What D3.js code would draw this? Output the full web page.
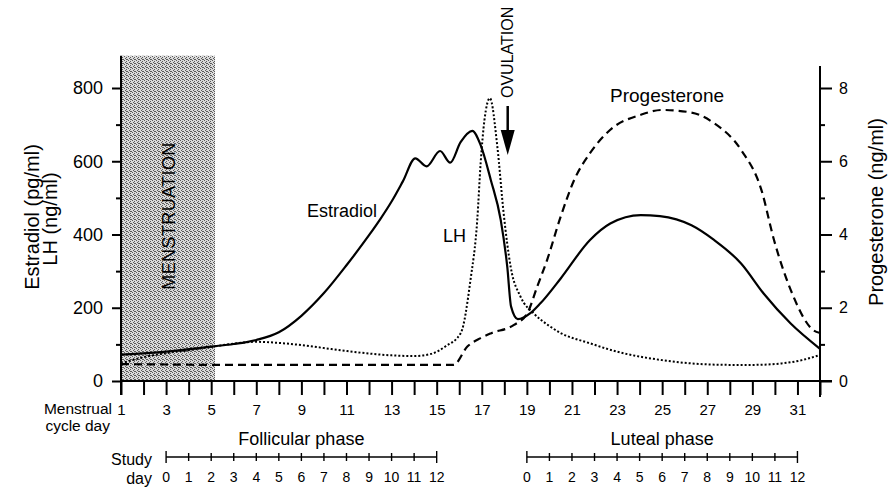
<!DOCTYPE html>
<html>
<head>
<meta charset="utf-8">
<script src="https://d3js.org/d3.v7.min.js"></script>
<style>
  body { margin: 0; background: #fff; }
  svg { display: block; font-family: "Liberation Sans", Arial, Helvetica, sans-serif; }
</style>
</head>
<body>
<div id="chart"></div>
<script>
// hormone levels: [menstrual cycle day, value]
var estradiol = [[1,72],[3,80],[5,94],[6,101],[7,112],[8,133],[9,178],[10,240],[11,316],[12,398],[12.5,442],
  [13,490],[13.5,545],[14.05,608],[14.55,586],[15.15,628],[15.6,596],[16.06,652],[16.58,683],[16.95,644],
  [17.4,549],[17.84,440],[18.13,312],[18.3,203],[18.6,169],[19.17,186],[19.6,212],[20.5,280],[21.8,385],
  [22.7,430],[24.05,453],[24.9,450],[26.3,425],[27.3,385],[28.5,321],[29.5,239],[30.7,157],[32,88]];
var lh = [[1,48],[2,65],[3,76],[4,84],[5,93],[6,102],[7,107],[8,104],[9,98],[10,90],[11,82],[12,75],[13,70],
  [14,68],[14.75,74],[15.4,95],[16.07,131],[16.5,276],[16.8,440],[16.95,595],[17.12,713],[17.36,772],[17.69,640],
  [17.97,458],[18.28,312],[18.72,230],[19.3,185],[20,150],[20.5,131],[21.8,103],[23,80],[24.06,66],[25,57],
  [26.3,48],[28,44],[29,44],[30.3,48],[31.2,57],[32,71]];
var progesterone = [[1,0.46],[3,0.45],[5,0.44],[10,0.44],[15.75,0.44],[16.36,0.94],[16.95,1.17],[17.4,1.3],
  [18.43,1.53],[19.02,1.85],[19.46,2.58],[19.9,3.31],[20.5,4.49],[21.1,5.49],[21.8,6.22],[22.7,6.86],[24.06,7.27],
  [25,7.4],[26.3,7.33],[27.3,7.04],[28.5,6.31],[29.4,5.22],[29.96,3.85],[30.7,2.49],[31.7,1.39],[32,1.31]];

var cycleDays = d3.range(1, 33);
var leftTicks = [0, 200, 400, 600, 800];
var leftMinor = [100, 300, 500, 700];
var rightTicks = [0, 2, 4, 6, 8];
var rightMinor = [1, 3, 5, 7];
var studyDays = d3.range(0, 13);
var follicular = [3, 15];
var luteal = [19, 31];
var menstruation = [1, 5.17];
var ovulationDay = 18.15;

var width = 892, height = 488;

var svg = d3.select("#chart")
  .append("svg")
    .attr("width", width)
    .attr("height", height);

// scales
var x = d3.scaleLinear().domain([1, 32]).range([121, 820]);
var y = d3.scaleLinear().domain([0, 800]).range([381, 88]);
var yP = d3.scaleLinear().domain([0, 8]).range([381, 88]);

// halftone stipple for the menstruation block
var pat = svg.append("defs").append("pattern")
  .attr("id", "stipple")
  .attr("width", 4).attr("height", 4)
  .attr("patternUnits", "userSpaceOnUse");
pat.append("rect").attr("width", 4).attr("height", 4).attr("fill", "#dadada");
[[0,0],[2,1],[1,2],[3,3],[2,3]].forEach(function(p) {
  pat.append("rect").attr("x", p[0]).attr("y", p[1]).attr("width", 1).attr("height", 1).attr("fill", "#5a5a5a");
});

svg.append("rect")
  .attr("x", x(menstruation[0]))
  .attr("y", y(888))
  .attr("width", x(menstruation[1]) - x(menstruation[0]))
  .attr("height", y(0) - y(888))
  .attr("fill", "url(#stipple)");

svg.append("text")
  .attr("transform", "translate(" + (x(3.05) + 8) + "," + y(450) + ") rotate(-90)")
  .attr("text-anchor", "middle")
  .attr("font-size", 18)
  .attr("textLength", 147)
  .text("MENSTRUATION");

// left axis
var gl = svg.append("g")
  .attr("transform", "translate(" + x(1) + ",0)")
  .call(d3.axisLeft(y).tickValues(leftTicks).tickSize(9).tickPadding(9));
gl.append("g").call(d3.axisLeft(y).tickValues(leftMinor).tickSize(5).tickFormat(""));
gl.selectAll(".domain").remove();
gl.attr("font-size", 18).attr("font-family", null);
gl.append("line").attr("y1", y(888)).attr("y2", y(0) + 14).attr("stroke", "#000");

// right axis
var gr = svg.append("g")
  .attr("transform", "translate(" + x(32) + ",0)")
  .call(d3.axisRight(yP).tickValues(rightTicks).tickSize(12).tickPadding(7));
gr.append("g").call(d3.axisRight(yP).tickValues(rightMinor).tickSize(5).tickFormat(""));
gr.selectAll(".domain").remove();
gr.attr("font-size", 16).attr("font-family", null);
gr.append("line").attr("y1", yP(8.6)).attr("y2", y(0) + 16).attr("stroke", "#000");

// bottom axis: menstrual cycle day
var gx = svg.append("g")
  .attr("transform", "translate(0," + y(0) + ")")
  .call(d3.axisBottom(x).tickValues(cycleDays).tickSize(14).tickPadding(9)
    .tickFormat(function(d) { return d % 2 ? d : ""; }));
gx.selectAll(".domain").remove();
gx.attr("font-size", 15).attr("font-family", null);
gx.append("line").attr("x1", x(1)).attr("x2", x(32) + 12).attr("stroke", "#000");

svg.selectAll(".tick line").attr("stroke-width", 2);
svg.selectAll("g > line").attr("stroke-width", 2);

svg.append("text").attr("x", 112).attr("y", 414).attr("text-anchor", "end").attr("font-size", 15.5).text("Menstrual");
svg.append("text").attr("x", 110).attr("y", 431).attr("text-anchor", "end").attr("font-size", 15.5).text("cycle day");

// study day scales under each phase
function studyAxis(days, label) {
  var s = d3.scaleLinear().domain([0, 12]).range([x(days[0]), x(days[1])]);
  var g = svg.append("g");
  var ly = 457;
  g.append("line").attr("x1", s(0)).attr("x2", s(12)).attr("y1", ly).attr("y2", ly)
    .attr("stroke", "#000").attr("stroke-width", 1.6);
  g.selectAll(".st").data(studyDays).join("line")
    .attr("x1", function(d) { return s(d); }).attr("x2", function(d) { return s(d); })
    .attr("y1", function(d) { return d == 0 || d == 12 ? ly - 6 : ly - 4; })
    .attr("y2", function(d) { return d == 0 || d == 12 ? ly + 6 : ly + 4; })
    .attr("stroke", "#000").attr("stroke-width", 1.4);
  g.selectAll(".sl").data(studyDays).join("text")
    .attr("x", function(d) { return s(d); })
    .attr("y", 482)
    .attr("text-anchor", "middle")
    .attr("font-size", 14)
    .text(function(d) { return d; });
  svg.append("text").attr("x", (s(0) + s(12)) / 2).attr("y", 445)
    .attr("text-anchor", "middle").attr("font-size", 18).text(label);
}
studyAxis(follicular, "Follicular phase");
studyAxis(luteal, "Luteal phase");

svg.append("text").attr("x", 152).attr("y", 465).attr("text-anchor", "end").attr("font-size", 16).text("Study");
svg.append("text").attr("x", 152).attr("y", 484).attr("text-anchor", "end").attr("font-size", 16).text("day");

// axis titles
svg.append("text")
  .attr("transform", "translate(39,217) rotate(-90)")
  .attr("text-anchor", "middle").attr("font-size", 20)
  .text("Estradiol (pg/ml)");
svg.append("text")
  .attr("transform", "translate(57,219) rotate(-90)")
  .attr("text-anchor", "middle").attr("font-size", 20)
  .text("LH (ng/ml)");
svg.append("text")
  .attr("transform", "translate(883,212) rotate(-90)")
  .attr("text-anchor", "middle").attr("font-size", 20)
  .text("Progesterone (ng/ml)");

// hormone curves
var line = d3.line()
  .x(function(d) { return x(d[0]); })
  .y(function(d) { return y(d[1]); })
  .curve(d3.curveMonotoneX);
var lineP = d3.line()
  .x(function(d) { return x(d[0]); })
  .y(function(d) { return yP(d[1]); })
  .curve(d3.curveMonotoneX);

svg.append("path").datum(progesterone)
  .attr("fill", "none").attr("stroke", "#000").attr("stroke-width", 2.2)
  .attr("stroke-dasharray", "8,5")
  .attr("d", lineP);
svg.append("path").datum(lh)
  .attr("fill", "none").attr("stroke", "#000").attr("stroke-width", 2)
  .attr("stroke-dasharray", "2,2")
  .attr("d", line);
svg.append("path").datum(estradiol)
  .attr("fill", "none").attr("stroke", "#000").attr("stroke-width", 2.2)
  .attr("d", line);

// curve labels
svg.append("text").attr("x", 307).attr("y", 217).attr("font-size", 18).text("Estradiol");
svg.append("text").attr("x", 443).attr("y", 242).attr("font-size", 18).text("LH");
svg.append("text").attr("x", 610).attr("y", 102).attr("font-size", 19).text("Progesterone");

// ovulation arrow
var ox = x(ovulationDay);
svg.append("line").attr("x1", ox).attr("x2", ox).attr("y1", 106).attr("y2", 134)
  .attr("stroke", "#000").attr("stroke-width", 2.5);
svg.append("path")
  .attr("d", "M" + (ox - 7) + ",130L" + (ox + 7) + ",130L" + ox + ",155Z")
  .attr("fill", "#000");
svg.append("text")
  .attr("transform", "translate(" + (ox + 5) + ",98) rotate(-90)")
  .attr("font-size", 16)
  .text("OVULATION");
</script>
</body>
</html>
